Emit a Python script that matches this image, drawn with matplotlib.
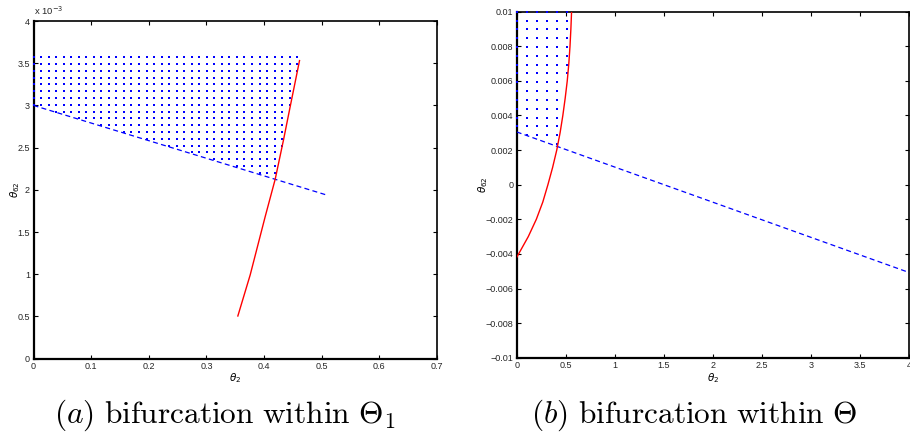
import matplotlib
matplotlib.use("Agg")
import matplotlib.pyplot as plt
import numpy as np
from matplotlib.ticker import FuncFormatter

plt.rcParams['font.family'] = ['Liberation Sans', 'DejaVu Sans']
plt.rcParams['lines.scale_dashes'] = False

# ---- panel (a): bifurcation within Theta_1 ----
a_red_t2 = [0.3545, 0.3759, 0.4019, 0.4193, 0.4337, 0.4453, 0.4615]
a_red_t62 = [0.506e-3, 0.992e-3, 1.682e-3, 2.126e-3, 2.591e-3, 2.986e-3, 3.531e-3]
a_dash_t2 = [0.0, 0.508]
a_dash_t62 = [3.0e-3, 1.94e-3]
a_dot_step = (0.01307, 0.0805e-3)   # grid spacing of the dotted region
a_dot_top = 3.57e-3
a_xticks = [0, 0.1, 0.2, 0.3, 0.4, 0.5, 0.6, 0.7]
a_yticks = [0, 0.5e-3, 1e-3, 1.5e-3, 2e-3, 2.5e-3, 3e-3, 3.5e-3, 4e-3]

# ---- panel (b): bifurcation within Theta ----
b_red_t2 = [0.0, 0.118, 0.2, 0.266, 0.318, 0.366, 0.408, 0.442, 0.47, 0.494, 0.515,
            0.531, 0.543, 0.552, 0.559]
b_red_t62 = [-0.0042, -0.003, -0.002, -0.001, 0.0, 0.001, 0.002, 0.003, 0.004, 0.005,
             0.006, 0.007, 0.008, 0.009, 0.01]
b_dash_t2 = [0.0, 4.0]
b_dash_t62 = [0.00305, -0.00508]
b_dot_step = (0.103, 0.00051)
b_dot_top = 0.01
b_xticks = [0, 0.5, 1, 1.5, 2, 2.5, 3, 3.5, 4]
b_yticks = [-0.01, -0.008, -0.006, -0.004, -0.002, 0, 0.002, 0.004, 0.006, 0.008, 0.01]


def region_dots(red_t2, red_t62, dash_t2, dash_t62, step, top):
    # grid points above the dashed line and left of the red curve
    xs = np.arange(0, max(red_t2) + step[0], step[0])
    ys = top - step[1] * np.arange(0, 40)
    X, Y = np.meshgrid(xs, ys)
    X, Y = X.ravel(), Y.ravel()
    slope = (dash_t62[1] - dash_t62[0]) / (dash_t2[1] - dash_t2[0])
    above = Y > dash_t62[0] + slope * X
    left = X < np.interp(Y, red_t62, red_t2)
    keep = above & left
    return X[keep], Y[keep]


def fmt(scale=1.0):
    def f(v, pos):
        s = "%g" % round(v * scale, 6)
        if s == "-0":
            s = "0"
        return s.replace("-", "\u2212")
    return FuncFormatter(f)


def style(ax):
    ax.tick_params(direction='in', length=3, width=0.8, top=True, right=True,
                   labelsize=6.5, labelcolor='#262626', pad=2.5)
    for side in ['left', 'bottom']:
        ax.spines[side].set_linewidth(1.6)
    for side in ['top', 'right']:
        ax.spines[side].set_linewidth(1.2)


fig = plt.figure(figsize=(9.10, 4.36), dpi=100)

ax1 = fig.add_axes([33.5 / 910, 1 - 358.7 / 436, 403.5 / 910, 337.7 / 436])
dx, dy = region_dots(a_red_t2, a_red_t62, a_dash_t2, a_dash_t62, a_dot_step, a_dot_top)
ax1.plot(dx, dy, linestyle='none', marker='s', markersize=1.9, color='blue', markeredgewidth=0,
         clip_on=False, zorder=3)
ax1.plot(a_dash_t2, a_dash_t62, color='blue', linewidth=0.9, dashes=(3.6, 2.4), zorder=3)
ax1.plot(a_red_t2, a_red_t62, color='red', linewidth=1.0, zorder=3)
ax1.set_xlim(0, 0.7)
ax1.set_ylim(0, 4e-3)
ax1.set_xticks(a_xticks)
ax1.set_yticks(a_yticks)
ax1.xaxis.set_major_formatter(fmt())
ax1.yaxis.set_major_formatter(fmt(1e3))
style(ax1)
ax1.text(0, 1.012, r"x 10$^{-3}$", transform=ax1.transAxes, fontsize=6.8,
         color='#262626', va='bottom', ha='left')
ax1.set_xlabel(r"$\theta_2$", fontsize=7.5)
ax1.set_ylabel(r"$\theta_{62}$", fontsize=7.5)
ax1.xaxis.set_label_coords(0.5, -0.036)
ax1.yaxis.set_label_coords(-0.028, 0.5)

ax2 = fig.add_axes([516.7 / 910, 1 - 357.7 / 436, 392.6 / 910, 346 / 436])
dx, dy = region_dots(b_red_t2, b_red_t62, b_dash_t2, b_dash_t62, b_dot_step, b_dot_top)
ax2.plot(dx, dy, linestyle='none', marker='s', markersize=1.9, color='blue', markeredgewidth=0,
         clip_on=False, zorder=3)
ax2.plot(b_dash_t2, b_dash_t62, color='blue', linewidth=0.9, dashes=(3.6, 2.4), zorder=3)
ax2.plot(b_red_t2, b_red_t62, color='red', linewidth=1.0, zorder=3)
ax2.set_xlim(0, 4)
ax2.set_ylim(-0.01, 0.01)
ax2.set_xticks(b_xticks)
ax2.set_yticks(b_yticks)
ax2.xaxis.set_major_formatter(fmt())
ax2.yaxis.set_major_formatter(fmt())
style(ax2)
ax2.set_xlabel(r"$\theta_2$", fontsize=7.5)
ax2.set_ylabel(r"$\theta_{62}$", fontsize=7.5)
ax2.xaxis.set_label_coords(0.5, -0.038)
ax2.yaxis.set_label_coords(-0.068, 0.5)

fig.text(225 / 910, 1 - 423 / 436, r"$(a)\ \mathrm{bifurcation\ within}\ \Theta_1$",
         fontsize=22.6, math_fontfamily='cm', ha='center', va='baseline')
fig.text(694 / 910, 1 - 423 / 436, r"$(b)\ \mathrm{bifurcation\ within}\ \Theta$",
         fontsize=22.6, math_fontfamily='cm', ha='center', va='baseline')

fig.savefig("out.png", dpi=100)
